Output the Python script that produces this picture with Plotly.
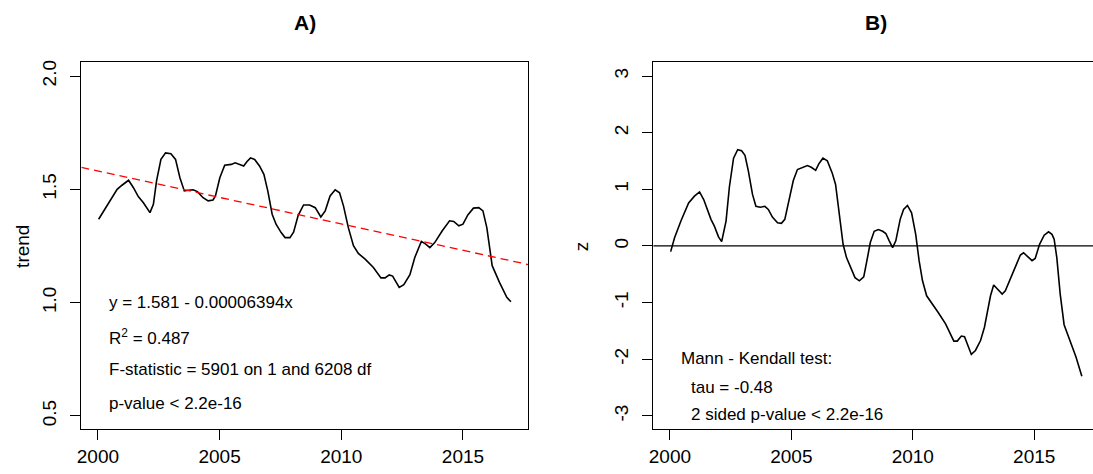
import plotly.graph_objects as go

# ---------------- data ----------------
YEARS_A = [2000.03, 2000.44, 2000.79, 2000.99, 2001.26, 2001.46, 2001.66, 2001.87, 2002.14, 2002.28,
           2002.41, 2002.59, 2002.78, 2003.00, 2003.19, 2003.37, 2003.55, 2003.71, 2003.91, 2004.09,
           2004.32, 2004.53, 2004.73, 2004.83, 2005.01, 2005.21, 2005.48, 2005.64, 2005.82, 2005.99,
           2006.12, 2006.27, 2006.44, 2006.64, 2006.82, 2006.98, 2007.16, 2007.32, 2007.53, 2007.69,
           2007.89, 2008.04, 2008.23, 2008.45, 2008.70, 2008.93, 2009.16, 2009.34, 2009.54, 2009.75,
           2009.93, 2010.09, 2010.29, 2010.50, 2010.70, 2010.98, 2011.32, 2011.63, 2011.80, 2011.97,
           2012.11, 2012.38, 2012.57, 2012.82, 2013.02, 2013.29, 2013.47, 2013.64, 2013.84, 2014.15,
           2014.45, 2014.62, 2014.83, 2015.00, 2015.20, 2015.43, 2015.65, 2015.82, 2015.98, 2016.20,
           2016.50, 2016.80, 2016.97]
TREND_A = [1.368, 1.441, 1.500, 1.518, 1.540, 1.507, 1.468, 1.441, 1.397, 1.434,
           1.537, 1.632, 1.661, 1.657, 1.632, 1.551, 1.493, 1.496, 1.498, 1.490,
           1.463, 1.449, 1.453, 1.471, 1.551, 1.606, 1.610, 1.617, 1.610, 1.603,
           1.622, 1.639, 1.632, 1.603, 1.566, 1.493, 1.390, 1.346, 1.309, 1.287,
           1.287, 1.311, 1.385, 1.431, 1.431, 1.419, 1.378, 1.405, 1.471, 1.498,
           1.485, 1.427, 1.331, 1.251, 1.217, 1.192, 1.155, 1.109, 1.109, 1.122,
           1.117, 1.067, 1.079, 1.123, 1.199, 1.270, 1.258, 1.243, 1.265, 1.317,
           1.361, 1.358, 1.339, 1.346, 1.387, 1.417, 1.419, 1.405, 1.331, 1.163,
           1.089, 1.023, 1.004]

YEARS_B = [2000.03, 2000.19, 2000.46, 2000.77, 2001.01, 2001.22, 2001.39, 2001.56, 2001.69, 2001.83,
           2002.00, 2002.13, 2002.31, 2002.45, 2002.62, 2002.79, 2002.95, 2003.09, 2003.23, 2003.40,
           2003.54, 2003.72, 2003.91, 2004.05, 2004.22, 2004.43, 2004.59, 2004.73, 2004.91, 2005.08,
           2005.25, 2005.45, 2005.66, 2005.82, 2006.00, 2006.13, 2006.30, 2006.48, 2006.68, 2006.82,
           2006.95, 2007.13, 2007.27, 2007.46, 2007.62, 2007.80, 2007.98, 2008.11, 2008.25, 2008.41,
           2008.58, 2008.76, 2008.89, 2009.03, 2009.17, 2009.30, 2009.48, 2009.62, 2009.78, 2009.95,
           2010.12, 2010.26, 2010.40, 2010.57, 2010.81, 2011.04, 2011.35, 2011.53, 2011.69, 2011.83,
           2012.00, 2012.13, 2012.27, 2012.41, 2012.58, 2012.79, 2012.95, 2013.09, 2013.20, 2013.33,
           2013.50, 2013.68, 2013.81, 2013.99, 2014.22, 2014.43, 2014.56, 2014.73, 2014.91, 2015.04,
           2015.22, 2015.41, 2015.59, 2015.73, 2015.82, 2015.93, 2016.07, 2016.23, 2016.48, 2016.72,
           2016.96]
Z_B = [-0.10, 0.146, 0.45, 0.76, 0.88, 0.955, 0.82, 0.615, 0.47, 0.35,
       0.16, 0.076, 0.44, 1.05, 1.55, 1.70, 1.68, 1.60, 1.32, 0.91,
       0.70, 0.685, 0.70, 0.645, 0.51, 0.41, 0.40, 0.47, 0.82, 1.155,
       1.35, 1.38, 1.42, 1.39, 1.335, 1.45, 1.55, 1.505, 1.29, 1.085,
       0.67, 0.03, -0.205, -0.40, -0.56, -0.615, -0.545, -0.26, 0.06, 0.26,
       0.29, 0.26, 0.22, 0.09, -0.03, 0.09, 0.47, 0.645, 0.715, 0.585,
       0.205, -0.26, -0.615, -0.88, -1.04, -1.17, -1.375, -1.55, -1.68, -1.68,
       -1.59, -1.60, -1.76, -1.915, -1.845, -1.67, -1.435, -1.14, -0.88, -0.69,
       -0.76, -0.85, -0.79, -0.615, -0.38, -0.16, -0.12, -0.19, -0.26, -0.22,
       0.03, 0.19, 0.25, 0.205, 0.12, -0.205, -0.85, -1.39, -1.67, -1.96,
       -2.30]

X_TICKS = [2000, 2005, 2010, 2015]
YA_TICKS = [0.5, 1.0, 1.5, 2.0]
YA_TICKTEXT = ["0.5", "1.0", "1.5", "2.0"]
YB_TICKS = [-3, -2, -1, 0, 1, 2, 3]
YB_TICKTEXT = ["-3", "-2", "-1", "0", "1", "2", "3"]

INTERCEPT = 1.581
SLOPE_PER_DAY = -0.00006394

TITLE_A = "A)"
TITLE_B = "B)"
YLAB_A = "trend"
YLAB_B = "z"
TEXT_A = ["y = 1.581 - 0.00006394x", "R<sup>2</sup> = 0.487",
          "F-statistic = 5901 on 1 and 6208 df", "p-value < 2.2e-16"]
TEXT_B = ["Mann - Kendall test:", "tau = -0.48", "2 sided p-value < 2.2e-16"]

# ---------------- layout geometry ----------------
W, H = 1093, 474
FONT = "Liberation Sans, Arial, sans-serif"
TICK_SIZE = 19
TEXT_SIZE = 17


def px(x):
    return x / W


def py(y):
    return 1 - y / H


XA_RANGE = [1999.32, 2017.68]
XB_RANGE = [1999.32, 2017.42]
YA_RANGE = [0.44, 2.06]
YB_RANGE = [-3.24, 3.24]

fig = go.Figure()

fig.add_trace(go.Scatter(x=YEARS_A, y=TREND_A, mode="lines",
                         line=dict(color="black", width=1.6), xaxis="x", yaxis="y",
                         showlegend=False, hoverinfo="skip"))

reg_x = XA_RANGE
reg_y = [INTERCEPT + SLOPE_PER_DAY * 365.25 * (v - 2000) for v in reg_x]
fig.add_trace(go.Scatter(x=reg_x, y=reg_y, mode="lines",
                         line=dict(color="#FF0000", width=1.3, dash="8px,5px"),
                         xaxis="x", yaxis="y", showlegend=False, hoverinfo="skip"))

fig.add_trace(go.Scatter(x=YEARS_B, y=Z_B, mode="lines",
                         line=dict(color="black", width=1.6), xaxis="x2", yaxis="y2",
                         showlegend=False, hoverinfo="skip"))

Y_DOM = [py(429.3), py(60.7)]

axis_common = dict(showgrid=False, zeroline=False, showline=True, linecolor="black",
                   linewidth=1, ticks="outside", ticklen=10, tickwidth=1, tickcolor="black",
                   tickfont=dict(family=FONT, size=TICK_SIZE, color="black"))

fig.update_layout(
    width=W, height=H,
    margin=dict(l=0, r=0, t=0, b=0),
    paper_bgcolor="white", plot_bgcolor="white",
    xaxis=dict(domain=[px(76.7), px(525.6)], range=XA_RANGE, tickvals=X_TICKS,
               anchor="y", mirror=True, **axis_common),
    yaxis=dict(domain=Y_DOM, range=YA_RANGE, tickvals=YA_TICKS, ticktext=YA_TICKTEXT,
               tickangle=-90, anchor="x", mirror=True, ticklabelstandoff=7, **axis_common),
    xaxis2=dict(domain=[px(651.4), 1.0], range=XB_RANGE, tickvals=X_TICKS,
                anchor="y2", mirror=True, **axis_common),
    yaxis2=dict(domain=Y_DOM, range=YB_RANGE, tickvals=YB_TICKS, ticktext=YB_TICKTEXT,
                tickangle=-90, anchor="x2", mirror=False, ticklabelstandoff=7, **axis_common),
)

# zero line on panel B
fig.add_shape(type="line", xref="x2 domain", yref="y2", x0=0, x1=1, y0=0, y1=0,
              line=dict(color="black", width=1.2))

annotations = []
# titles
annotations.append(dict(text="<b>%s</b>" % TITLE_A, x=px(301), y=py(21), xref="paper", yref="paper",
                        showarrow=False, xanchor="center", yanchor="middle",
                        font=dict(family=FONT, size=21, color="black")))
annotations.append(dict(text="<b>%s</b>" % TITLE_B, x=px(875.5), y=py(21), xref="paper", yref="paper",
                        showarrow=False, xanchor="center", yanchor="middle",
                        font=dict(family=FONT, size=21, color="black")))
# y labels
annotations.append(dict(text=YLAB_A, x=px(18), y=py(245), xref="paper", yref="paper",
                        showarrow=False, textangle=-90, xanchor="center", yanchor="middle",
                        font=dict(family=FONT, size=TICK_SIZE, color="black")))
annotations.append(dict(text=YLAB_B, x=px(580), y=py(245), xref="paper", yref="paper",
                        showarrow=False, textangle=-90, xanchor="center", yanchor="middle",
                        font=dict(family=FONT, size=TICK_SIZE, color="black")))
# panel A statistics
for t, yy in zip(TEXT_A, [301.7, 336.7, 369.3, 403.3]):
    annotations.append(dict(text=t, x=px(102.5), y=py(yy), xref="paper", yref="paper",
                            showarrow=False, xanchor="left", yanchor="middle",
                            font=dict(family=FONT, size=TEXT_SIZE, color="black")))
# panel B statistics
for t, xx, yy in zip(TEXT_B, [677, 687, 687], [358.3, 386.7, 414.3]):
    annotations.append(dict(text=t, x=px(xx), y=py(yy), xref="paper", yref="paper",
                            showarrow=False, xanchor="left", yanchor="middle",
                            font=dict(family=FONT, size=TEXT_SIZE, color="black")))

fig.update_layout(annotations=annotations)

fig.write_html("out.html")
